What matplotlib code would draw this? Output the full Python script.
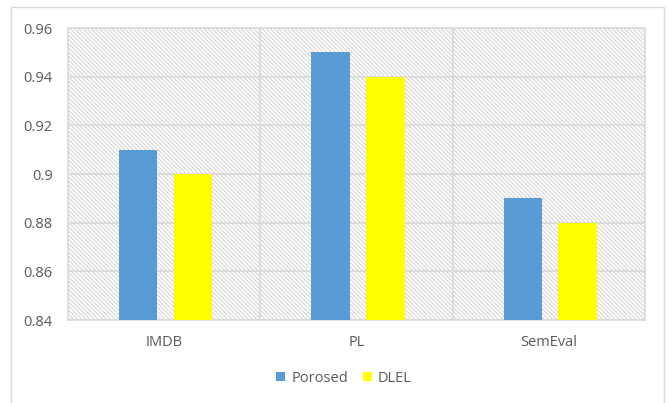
import numpy as np
import matplotlib.pyplot as plt
from matplotlib.patches import Rectangle

# data
categories = ["IMDB", "PL", "SemEval"]
porosed = [0.91, 0.95, 0.89]
dlel = [0.90, 0.94, 0.88]

plt.rcParams['font.family'] = ['Open Sans', 'DejaVu Sans']
plt.rcParams['hatch.linewidth'] = 1.0

fig = plt.figure(figsize=(6.69, 4.03), dpi=100)
ax = fig.add_axes([68/669, 1 - 320/403, (645-68)/669, (320-28)/403])

x = np.arange(len(categories))
ax.set_xlim(-0.5, 2.5)
ax.set_ylim(0.84, 0.96)

# hatched plot area background
bg = Rectangle((0, 0), 1, 1, transform=ax.transAxes, facecolor='white',
               edgecolor='#dcdcdc', hatch='\\' * 8, linewidth=0, zorder=0)
ax.add_patch(bg)

ax.set_yticks(np.arange(0.84, 0.961, 0.02))
ax.set_yticklabels(["0.84", "0.86", "0.88", "0.9", "0.92", "0.94", "0.96"])
ax.yaxis.grid(True, color='#d9d9d9', linewidth=1.2, zorder=1)
for xv in [0.5, 1.5]:
    ax.axvline(xv, color='#d9d9d9', linewidth=1.2, zorder=1)
ax.set_axisbelow(True)

w = 0.2
ax.bar(x - 0.135, porosed, width=w, color='#5B9BD5', label='Porosed', zorder=3)
ax.bar(x + 0.15, dlel, width=w, color='#FFFF00', label='DLEL', zorder=3)

ax.set_xticks(x)
ax.set_xticklabels(categories)
ax.tick_params(axis='both', length=0, colors='#595959', labelsize=10.5)
ax.tick_params(axis='x', pad=11)
ax.tick_params(axis='y', pad=11)
for s in ax.spines.values():
    s.set_color('#d9d9d9')
    s.set_linewidth(1.2)

leg = fig.legend(loc='center', bbox_to_anchor=(0.514, 1 - 378/403), ncol=2,
                 frameon=False, fontsize=10.5, handlelength=0.65, handleheight=0.65,
                 handletextpad=0.4, columnspacing=1.0)
for t in leg.get_texts():
    t.set_color('#595959')

# outer chart border
fig.add_artist(Rectangle((11/669, -0.05), (664-11)/669, 1 - 7/403 + 0.05,
                         transform=fig.transFigure, fill=False,
                         edgecolor='#d9d9d9', linewidth=1))

fig.savefig("out.png", dpi=100)
